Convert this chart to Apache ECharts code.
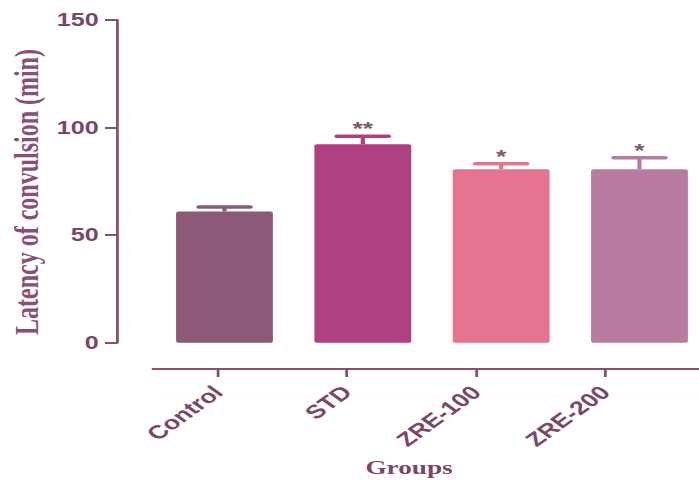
<!DOCTYPE html>
<html>
<head>
<meta charset="utf-8">
<script src="https://cdn.jsdelivr.net/npm/echarts@6/dist/echarts.min.js"></script>
<style>
  html, body { margin: 0; padding: 0; background: #ffffff; overflow: hidden; }
  #wrap { width: 699px; height: 485px; overflow: hidden; }
  /* the figure is laid out narrow and widened horizontally */
  #chart { width: 520px; height: 485px; transform: scaleX(1.398); transform-origin: 0 0; }
</style>
</head>
<body>
<div id="wrap"><div id="chart"></div></div>
<script>
// Latency of convulsion per treatment group (mean with upper SEM bar)
const categories = ['Control', 'STD', 'ZRE-100', 'ZRE-200'];
const latency = [61, 92.2, 80.6, 80.6];
const upperError = [63.1, 96.0, 83.2, 86.0];
const significance = ['', '**', '*', '*'];
const yTickValues = [0, 50, 100, 150];

const barColors = ['#8c5a78', '#ae3f80', '#e67491', '#b97ba0'];
const axisColor = '#86506f';
const labelColor = '#7b4766';

const chart = echarts.init(document.getElementById('chart'), null, { renderer: 'svg' });

const barData = latency.map((v, i) => ({ value: v, itemStyle: { color: barColors[i] } }));
const errData = latency.map((v, i) => [i, v, upperError[i], significance[i]]);

chart.setOption({
  animation: false,
  backgroundColor: '#ffffff',
  grid: [
    { left: 111.1, width: 395.8, top: 20, bottom: 142.3 },
    { left: 109.4, width: 395, top: 300, bottom: 116 }
  ],
  xAxis: [
    { type: 'category', gridIndex: 0, data: categories, show: false },
    {
      type: 'value', gridIndex: 1, min: -0.504, max: 3.775,
      splitLine: { show: false },
      axisLine: { show: true, lineStyle: { color: axisColor, width: 2 } },
      axisTick: { show: true, customValues: [0, 1, 2, 3], length: 8, lineStyle: { color: axisColor, width: 2 } },
      axisLabel: {
        customValues: [0, 1, 2, 3],
        formatter: v => categories[Math.round(v)],
        rotate: 45, margin: 20,
        color: labelColor, fontFamily: 'Liberation Sans', fontWeight: 'bold', fontSize: 19
      }
    }
  ],
  yAxis: [
    {
      type: 'value', gridIndex: 0, min: 0, max: 150, interval: 50, offset: 27.4,
      splitLine: { show: false },
      axisLine: { show: true, lineStyle: { color: axisColor, width: 2 } },
      axisTick: { show: true, length: 8.6, lineStyle: { color: axisColor, width: 2 } },
      axisLabel: {
        margin: 13, color: labelColor, fontFamily: 'Liberation Sans', fontWeight: 'bold', fontSize: 18,
        formatter: v => (yTickValues.indexOf(v) >= 0 ? String(v) : '')
      }
    },
    { type: 'value', gridIndex: 1, show: false }
  ],
  graphic: [
    {
      type: 'text', x: 19.3, y: 192, rotation: Math.PI / 2,
      style: {
        text: 'Latency of convulsion (min)', fill: '#8a4f78',
        font: 'bold 24px "Liberation Serif"', align: 'center', verticalAlign: 'middle'
      }
    },
    {
      type: 'text', x: 292.6, y: 467,
      style: {
        text: 'Groups', fill: labelColor,
        font: 'bold 19.5px "Liberation Serif"', align: 'center', verticalAlign: 'middle'
      }
    }
  ],
  series: [
    {
      type: 'bar', xAxisIndex: 0, yAxisIndex: 0, barWidth: '70%',
      itemStyle: { borderRadius: 2 },
      data: barData
    },
    {
      type: 'custom', xAxisIndex: 0, yAxisIndex: 0, z: 3,
      data: errData,
      renderItem: function (params, api) {
        const i = api.value(0);
        const base = api.coord([i, api.value(1)]);
        const top = api.coord([i, api.value(2)]);
        const color = barColors[i];
        const half = 18.5;
        return {
          type: 'group',
          children: [
            { type: 'line', shape: { x1: base[0], y1: base[1], x2: top[0], y2: top[1] }, style: { stroke: color, lineWidth: 3 } },
            { type: 'line', shape: { x1: top[0] - half, y1: top[1], x2: top[0] + half, y2: top[1] }, style: { stroke: color, lineWidth: 3.5, lineCap: 'round' } },
            { type: 'text', x: top[0], y: top[1] + 2, style: { text: significance[i], fill: '#7a5b70', font: 'bold 19px "Liberation Sans"', align: 'center', verticalAlign: 'bottom' } }
          ]
        };
      }
    }
  ]
});
</script>
</body>
</html>
